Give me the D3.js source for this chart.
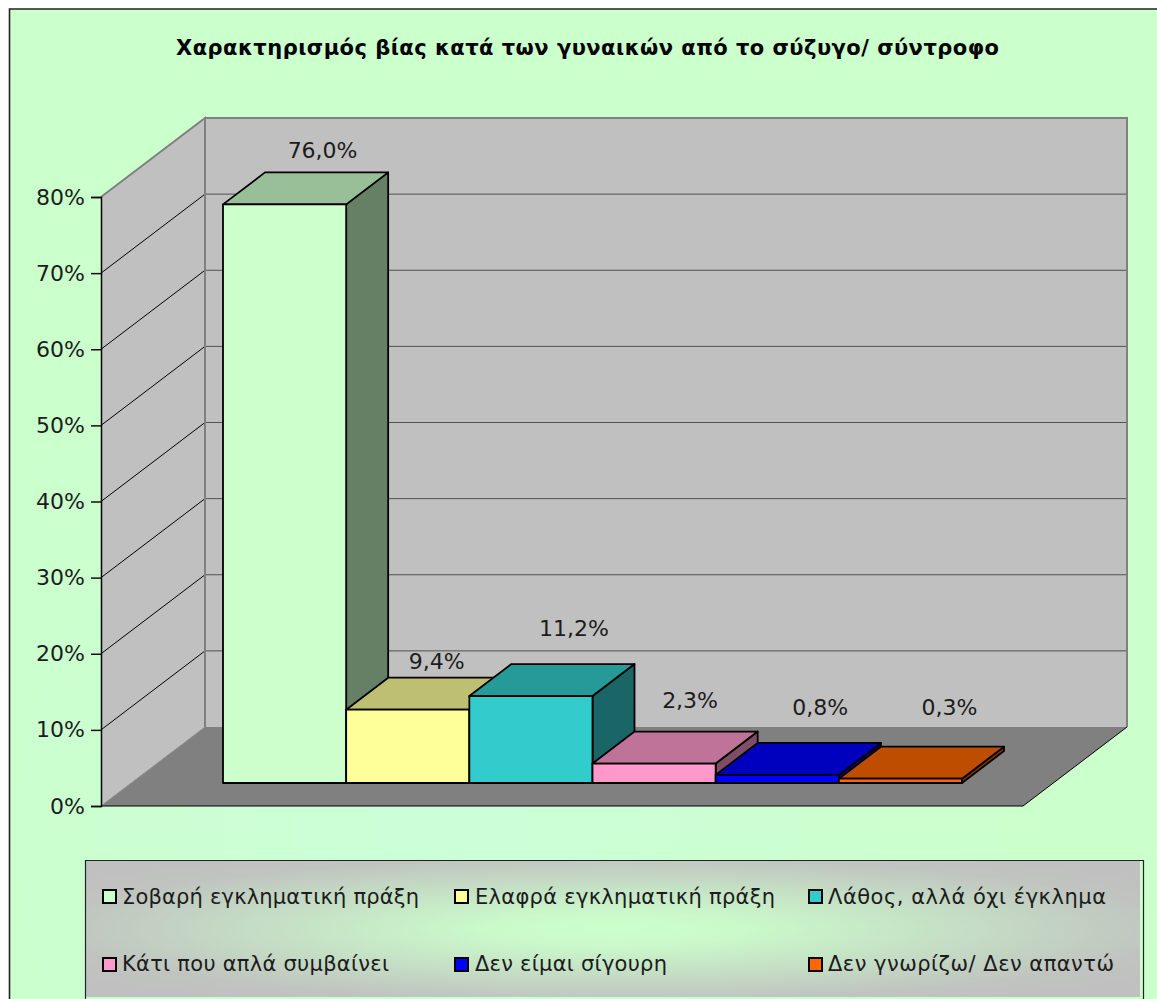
<!DOCTYPE html>
<html lang="el">
<head>
<meta charset="utf-8">
<script src="https://cdn.jsdelivr.net/npm/d3@7"></script>
<style>
html,body{margin:0;padding:0;background:#fff;overflow:hidden}
svg{display:block}
text{font-family:"DejaVu Sans",sans-serif;fill:#1c1c1c}
</style>
</head>
<body>
<svg id="chart" width="1157" height="999"></svg>
<script>
// Data
const titleText = "Χαρακτηρισμός βίας κατά των γυναικών από το σύζυγο/ σύντροφο";
const categories = ["Σοβαρή εγκληματική πράξη","Ελαφρά εγκληματική πράξη","Λάθος, αλλά όχι έγκλημα","Κάτι που απλά συμβαίνει","Δεν είμαι σίγουρη","Δεν γνωρίζω/ Δεν απαντώ"];
const values = [76.0, 9.4, 11.2, 2.3, 0.8, 0.3];
const colors = ["#CCFFCC","#FFFF99","#33CCCC","#FF99CC","#0000FF","#FF6600"];
const axisTicks = [0,10,20,30,40,50,60,70,80];

// Layout
const frontLeft = 101, floorRight = 1023, frontBase = 806, frontTop = 197;
const depthX = 104, depthY = -79;          // wall / floor depth
const barDepthX = 42, barDepthY = -32;     // bar depth
const barBottom = 783;                     // bottom edge of the bar fronts
const labelShift = [[38,-14.4],[29,-8.7],[43,-28],[36,-23.5],[43,-28],[49,-31.7]];
const legendSlots = [
  {sx:102,tx:122,tw:297,row:0},{sx:454,tx:475,tw:300,row:0},{sx:808,tx:828,tw:278,row:0},
  {sx:102,tx:122,tw:267,row:1},{sx:454,tx:475,tw:192,row:1},{sx:808,tx:828,tw:286,row:1}
];

const svg = d3.select("#chart");
const defs = svg.append("defs");

const bgGrad = defs.append("radialGradient").attr("id","bgGrad").attr("gradientUnits","userSpaceOnUse")
  .attr("cx",450).attr("cy",830).attr("r",600);
bgGrad.append("stop").attr("offset",0).attr("stop-color","#CBFFD8");
bgGrad.append("stop").attr("offset",1).attr("stop-color","#CBFFCB");

const legGrad = defs.append("radialGradient").attr("id","legGrad")
  .attr("cx",0.5).attr("cy",0.5).attr("r",0.62);
legGrad.append("stop").attr("offset",0).attr("stop-color","#CCFFCC");
legGrad.append("stop").attr("offset",0.2).attr("stop-color","#CAF9CA");
legGrad.append("stop").attr("offset",0.85).attr("stop-color","#C0C4C0");
legGrad.append("stop").attr("offset",1).attr("stop-color","#C0C0C0");

// Chart area
svg.append("rect").attr("x",9).attr("y",9).attr("width",1148).attr("height",990).attr("fill","url(#bgGrad)");
svg.append("path").attr("d","M9.5,999V9H1157").attr("fill","none").attr("stroke","#222").attr("stroke-width",1.6);

// Scales
const y = d3.scaleLinear().domain([0,80]).range([frontBase,frontTop]);
const x = d3.scaleBand().domain(categories).range([223,962]).paddingInner(0).paddingOuter(0);
const barTop = d3.scaleLinear().domain([0,76]).range([781,204.4]);
const line = d3.line();

// Walls and floor
const backLeft = frontLeft + depthX, backRight = floorRight + depthX;
svg.append("path").attr("d",line([[frontLeft,frontBase],[backLeft,frontBase+depthY],[backRight,frontBase+depthY],[floorRight,frontBase]])+"Z")
  .attr("fill","#808080");
svg.append("path").attr("d",line([[frontLeft,frontBase],[frontLeft,frontTop],[backLeft,frontTop+depthY],[backLeft,frontBase+depthY]])+"Z")
  .attr("fill","#C0C0C0");
svg.append("rect").attr("x",backLeft).attr("y",frontTop+depthY).attr("width",backRight-backLeft).attr("height",frontBase-frontTop)
  .attr("fill","#C0C0C0");

// Gridlines
const gridTicks = axisTicks.filter(t=>t>0 && t<80);
svg.append("g").selectAll("line").data(gridTicks).join("line")
  .attr("x1",backLeft).attr("x2",backRight)
  .attr("y1",d=>y(d)+depthY).attr("y2",d=>y(d)+depthY)
  .attr("stroke","#505050").attr("stroke-width",1);
svg.append("g").selectAll("line").data(gridTicks).join("line")
  .attr("x1",frontLeft).attr("x2",backLeft)
  .attr("y1",d=>y(d)).attr("y2",d=>y(d)+depthY)
  .attr("stroke","#000").attr("stroke-width",1);

// Wall outlines
svg.append("path")
  .attr("d",line([[frontLeft,frontTop],[backLeft,frontTop+depthY],[backLeft,frontBase+depthY]])
    +line([[backLeft,frontTop+depthY],[backRight,frontTop+depthY],[backRight,frontBase+depthY]]))
  .attr("fill","none").attr("stroke","#808080").attr("stroke-width",2);
svg.append("line").attr("x1",frontLeft).attr("x2",backLeft).attr("y1",frontBase).attr("y2",frontBase+depthY)
  .attr("stroke","#8a8a8a").attr("stroke-width",1);
svg.append("path").attr("d",line([[frontLeft,frontBase],[floorRight,frontBase],[backRight,frontBase+depthY]]))
  .attr("fill","none").attr("stroke","#000").attr("stroke-width",1);

// Axis
const axis = svg.append("g").attr("transform",`translate(${frontLeft},0)`)
  .call(d3.axisLeft(y).tickValues(axisTicks).tickSize(10).tickPadding(6).tickFormat(d=>d+"%"));
axis.select(".domain").attr("stroke","#000").attr("stroke-width",1.5);
axis.selectAll("line").attr("stroke","#111").attr("stroke-width",1.5);
axis.selectAll("text").attr("font-size",22).style("font-family",'"DejaVu Sans",sans-serif').attr("fill","#1c1c1c");

// Bars
const shade = (c,k)=>{const r=d3.rgb(c);return d3.rgb(r.r*k,r.g*k,r.b*k).formatHex();};
const bar = svg.append("g").selectAll("g").data(values).join("g")
  .attr("stroke","#000").attr("stroke-width",1.8).attr("stroke-linejoin","round");
const bx0 = (d,i)=>x(categories[i]), bx1 = (d,i)=>bx0(d,i)+x.bandwidth();
bar.append("path").attr("fill",(d,i)=>shade(colors[i],0.5))
  .attr("d",(d,i)=>line([[bx1(d,i),barTop(d)],[bx1(d,i)+barDepthX,barTop(d)+barDepthY],[bx1(d,i)+barDepthX,barBottom+barDepthY],[bx1(d,i),barBottom]])+"Z");
bar.append("path").attr("fill",(d,i)=>shade(colors[i],0.75))
  .attr("d",(d,i)=>line([[bx0(d,i),barTop(d)],[bx0(d,i)+barDepthX,barTop(d)+barDepthY],[bx1(d,i)+barDepthX,barTop(d)+barDepthY],[bx1(d,i),barTop(d)]])+"Z");
bar.append("rect").attr("fill",(d,i)=>colors[i])
  .attr("x",bx0).attr("y",d=>barTop(d)).attr("width",x.bandwidth()).attr("height",d=>barBottom-barTop(d));

// Data labels
const fmt = v => v.toFixed(1).replace(".",",")+"%";
svg.append("g").selectAll("text").data(values).join("text")
  .attr("x",(d,i)=>bx0(d,i)+x.bandwidth()/2+labelShift[i][0])
  .attr("y",(d,i)=>barTop(d)+barDepthY+labelShift[i][1])
  .attr("text-anchor","middle").attr("font-size",22).text(fmt);

// Title
svg.append("text").attr("x",176).attr("y",55).attr("font-size",21).attr("font-weight","bold")
  .style("fill","#000").attr("textLength",823).attr("lengthAdjust","spacing").text(titleText);

// Legend
svg.append("rect").attr("x",86).attr("y",861).attr("width",1054).attr("height",136).attr("fill","url(#legGrad)");
svg.append("path").attr("d","M85.5,999V860.5H1143.5V999").attr("fill","none").attr("stroke","#222").attr("stroke-width",1.2);
const rowSwatch = [889,957], rowText = [904,971];
const item = svg.append("g").selectAll("g").data(categories).join("g");
item.append("rect").attr("x",(d,i)=>legendSlots[i].sx+1).attr("y",(d,i)=>rowSwatch[legendSlots[i].row]+1)
  .attr("width",13).attr("height",13).attr("fill",(d,i)=>colors[i]).attr("stroke","#000").attr("stroke-width",2);
item.append("text").attr("x",(d,i)=>legendSlots[i].tx).attr("y",(d,i)=>rowText[legendSlots[i].row])
  .attr("font-size",21).attr("textLength",(d,i)=>legendSlots[i].tw).attr("lengthAdjust","spacing").text(d=>d);
</script>
</body>
</html>
